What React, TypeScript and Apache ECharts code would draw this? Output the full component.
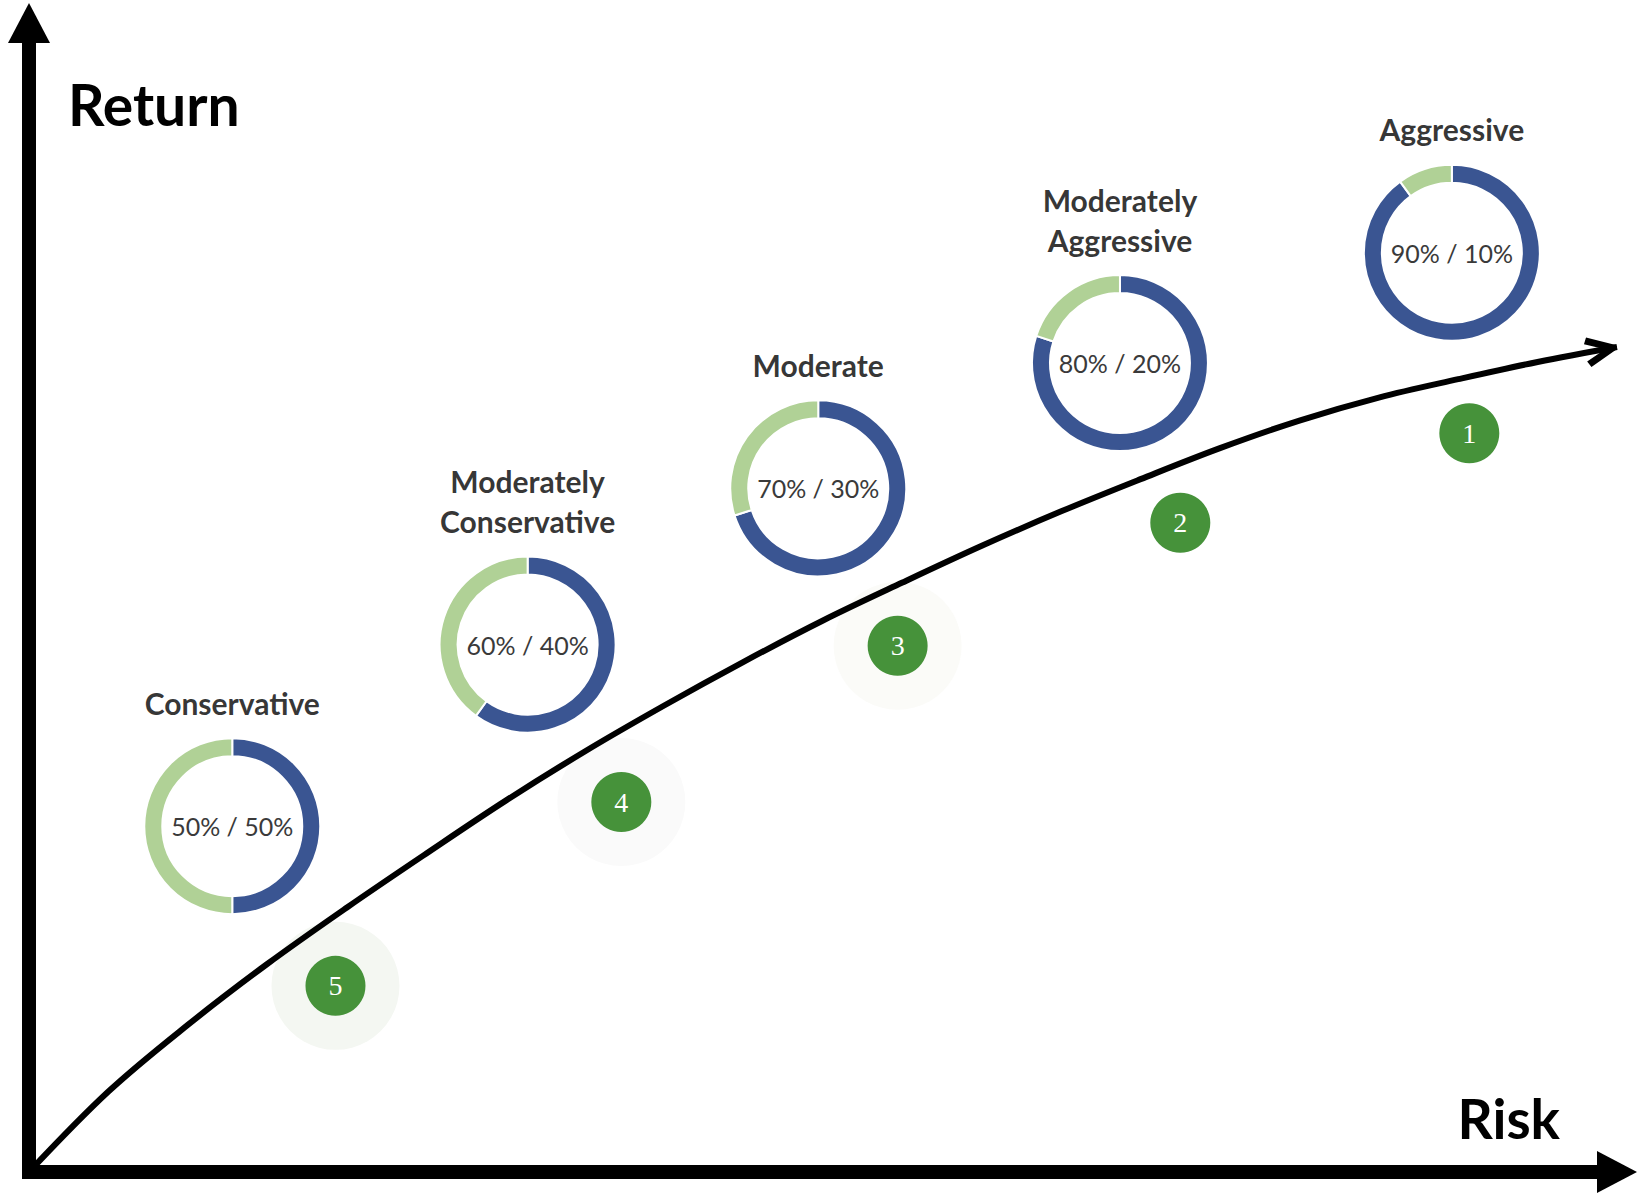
import React, { useEffect, useRef } from "react";
import * as echarts from "echarts";

// Risk profiles (donuts): stock / bond split
const profileNames = [
  "Conservative",
  "Moderately\nConservative",
  "Moderate",
  "Moderately\nAggressive",
  "Aggressive",
];
const stockPct = [50, 60, 70, 80, 90];
const bondPct = [50, 40, 30, 20, 10];
const donutRisk = [12.8, 31.4, 49.7, 68.7, 89.6];
const donutReturn = [30.1, 45.9, 59.5, 70.4, 80.0];

// Numbered badges along the curve
const rankLabels = ["5", "4", "3", "2", "1"];
const rankRisk = [19.3, 37.3, 54.7, 72.5, 90.7];
const rankReturn = [16.2, 32.2, 45.8, 56.5, 64.3];
const haloColors = ["#f4f7f2", "#fafafa", "#fbfbf8", "", ""];

// Risk / return curve (every 5 risk units)
const curveRisk = [0, 5, 10, 15, 20, 25, 30, 35, 40, 45, 50, 55, 60, 65, 70, 75, 80, 85, 90, 95, 100];
const curveReturn = [
  0, 7.0, 12.8, 18.1, 23.0, 27.7, 32.3, 36.6, 40.6, 44.4, 48.0, 51.3, 54.5, 57.5, 60.3, 63.0, 65.4, 67.4,
  69.0, 70.5, 71.8,
];

const axisNames = { x: "Risk", y: "Return" };

const BLUE = "#3a5592";
const LIGHT_GREEN = "#b0d196";
const BADGE_GREEN = "#46923a";
const SANS = "Lato, 'Open Sans', sans-serif";

const chevron = "path://M3,0 L28,12 Q31.5,14.5 28,17 L3,29 L0,23 L18.5,14.5 L0,6 Z";

export default function App() {
  const ref = useRef<HTMLDivElement>(null);

  useEffect(() => {
    if (!ref.current) return;
    const chart = echarts.init(ref.current, null, { renderer: "svg" });

    const curveData = curveRisk.map((x, i) => [x, curveReturn[i]]);
    const last = curveData[curveData.length - 1];

    const baseSeries: any[] = [
      {
        type: "line",
        name: "curve",
        data: curveData,
        smooth: 0.35,
        symbol: "none",
        silent: true,
        z: 3,
        lineStyle: { color: "#000", width: 6 },
      },
      {
        type: "scatter",
        name: "halo",
        silent: true,
        z: 1,
        symbolSize: 128,
        data: rankRisk
          .map((x, i) => ({ value: [x, rankReturn[i]], itemStyle: { color: haloColors[i], opacity: 1 } }))
          .filter((d, i) => haloColors[i] !== ""),
      },
      {
        type: "scatter",
        name: "arrowhead",
        silent: true,
        z: 4,
        data: [last],
        symbol: chevron,
        symbolSize: [32, 30],
        symbolRotate: 10.5,
        symbolOffset: [-15.7, 2.9],
        itemStyle: { color: "#000", opacity: 1 },
      },
      {
        type: "scatter",
        name: "badges",
        silent: true,
        z: 5,
        symbolSize: 60,
        itemStyle: { color: BADGE_GREEN, opacity: 1 },
        data: rankRisk.map((x, i) => ({ value: [x, rankReturn[i]], name: rankLabels[i] })),
        label: {
          show: true,
          position: "inside",
          formatter: (p: any) => p.name,
          color: "#fff",
          fontFamily: "'Liberation Serif', 'DejaVu Serif', serif",
          fontSize: 28,
        },
      },
      {
        type: "scatter",
        name: "profileLabels",
        silent: true,
        z: 5,
        symbolSize: 1,
        itemStyle: { color: "transparent" },
        data: donutRisk.map((x, i) => ({ value: [x, donutReturn[i]], name: profileNames[i] })),
        label: {
          show: true,
          position: "top",
          distance: 103,
          formatter: (p: any) => p.name,
          color: "#000",
          fontFamily: SANS,
          fontWeight: "bold",
          fontSize: 30,
          lineHeight: 40,
          align: "center",
        },
      },
    ];

    const base: any = {
      animation: false,
      backgroundColor: "#fff",
      grid: { left: 29, right: 29, top: 23, bottom: 32, containLabel: false },
      xAxis: {
        type: "value",
        min: 0,
        max: 100,
        name: axisNames.x,
        nameLocation: "end",
        nameGap: -57,
        nameTextStyle: {
          fontFamily: SANS,
          fontWeight: "bold",
          fontSize: 55,
          color: "#000",
          align: "right",
          verticalAlign: "bottom",
          padding: [0, 0, 27, 0],
        },
        axisLine: {
          show: true,
          symbol: ["none", "triangle"],
          symbolSize: [42, 40],
          lineStyle: { color: "#000", width: 14, cap: "square" },
        },
        axisTick: { show: false },
        axisLabel: { show: false },
        splitLine: { show: false },
      },
      yAxis: {
        type: "value",
        min: 0,
        max: 100,
        name: axisNames.y,
        nameLocation: "end",
        nameGap: -81,
        nameTextStyle: {
          fontFamily: SANS,
          fontWeight: "bold",
          fontSize: 57,
          color: "#000",
          align: "left",
          verticalAlign: "middle",
          padding: [0, 0, 0, 39],
        },
        axisLine: {
          show: true,
          symbol: ["none", "triangle"],
          symbolSize: [42, 40],
          lineStyle: { color: "#000", width: 14, cap: "square" },
        },
        axisTick: { show: false },
        axisLabel: { show: false },
        splitLine: { show: false },
      },
      series: baseSeries,
    };

    chart.setOption(base);

    const pies = profileNames.map((name, i) => {
      const center = chart.convertToPixel({ seriesIndex: 0 }, [donutRisk[i], donutReturn[i]]) as number[];
      return {
        type: "pie",
        name,
        silent: true,
        z: 4,
        center,
        radius: [70, 88],
        startAngle: 90,
        clockwise: true,
        emphasis: { disabled: true },
        labelLine: { show: false },
        label: { show: false },
        itemStyle: { borderColor: "#fff", borderWidth: 2 },
        data: [
          {
            value: stockPct[i],
            name: "Stocks",
            itemStyle: { color: BLUE },
            label: {
              show: true,
              position: "center",
              formatter: `${stockPct[i]}% / ${bondPct[i]}%`,
              fontFamily: SANS,
              fontSize: 25,
              color: "#3a3a3a",
            },
          },
          { value: bondPct[i], name: "Bonds", itemStyle: { color: LIGHT_GREEN } },
        ],
      };
    });

    chart.setOption({ series: [...baseSeries, ...pies] });

    return () => chart.dispose();
  }, []);

  return (
    <div
      ref={ref}
      style={{ position: "absolute", left: 0, top: 0, width: 1646, height: 1204 }}
    />
  );
}
